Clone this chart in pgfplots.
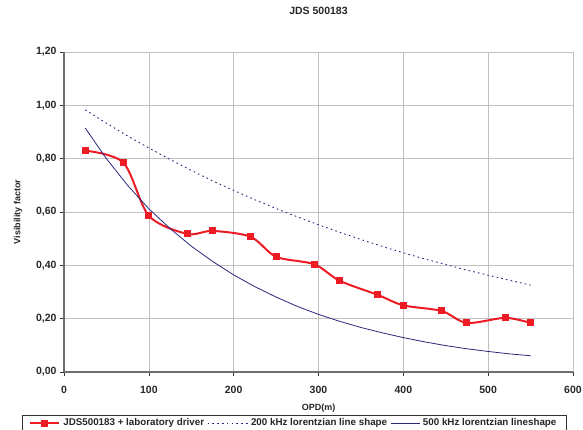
\documentclass[border=0pt]{standalone}
\usepackage{fontspec}
\setmainfont{Liberation Sans}
\usepackage{pgfplots}
\pgfplotsset{compat=1.18}
\definecolor{myred}{RGB}{237,28,36}
\definecolor{navy}{RGB}{40,40,125}
\definecolor{gridgray}{RGB}{192,192,192}
\definecolor{axgray}{RGB}{110,110,110}
\begin{document}
\begin{tikzpicture}
\useasboundingbox (0,0) rectangle (583pt,430pt);
\begin{axis}[
  at={(64pt,58pt)}, anchor=south west,
  scale only axis, width=509pt, height=320pt,
  xmin=0, xmax=600, ymin=0, ymax=1.2,
  xtick={0,100,200,300,400,500,600},
  ytick={0,0.2,0.4,0.6,0.8,1.0,1.2},
  axis x line*=bottom, axis y line*=left,
  axis line style={axgray, line width=1.3pt, -},
  tick style={black!80, line width=0.6pt},
  tick align=outside, major tick length=4pt,
  grid=major, major grid style={gridgray, line width=0.6pt},
  /pgf/number format/assume math mode=true,
  yticklabel style={/pgf/number format/.cd, fixed, fixed zerofill, precision=2, use comma},
  ticklabel style={font=\fontsize{10.5}{12}\selectfont\bfseries, text=black!85},
  xticklabel style={anchor=center, yshift=-14pt},
  title={JDS 500183},
  title style={font=\fontsize{10.5}{12}\selectfont\bfseries, text=black!85, at={(axis description cs:0.5,1)}, anchor=center, yshift=35pt},
  xlabel={OPD(m)},
  xlabel style={font=\fontsize{9}{11}\selectfont\bfseries, text=black!85, at={(axis description cs:0.5,0)}, anchor=center, yshift=-36pt},
  ylabel={Visibility factor},
  ylabel style={font=\fontsize{9}{11}\selectfont\bfseries, text=black!85, at={([xshift=-46pt]axis description cs:0,0.5)}, anchor=center},
  legend columns=3,
  legend style={at={(axis description cs:-0.0825,-0.1344)}, anchor=north west,
    draw=black!80, line width=0.6pt, fill=white, inner xsep=7pt, inner ysep=1.5pt,
    font=\fontsize{9.8}{11}\selectfont\bfseries,
    nodes={inner xsep=3pt, inner ysep=2pt, text=black!85},
    column sep=0pt},
]
\addplot[myred, line width=2pt, smooth, tension=0.5, mark=square*, mark size=3pt, mark options={fill=myred, draw=myred, line width=0pt},
  legend image code/.code={
    \draw[mark repeat=2, mark phase=2] plot coordinates {(0pt,0pt) (14.5pt,0pt) (29pt,0pt)};}]
coordinates {
(25,0.830) (70,0.785) (100,0.586) (145,0.518) (175,0.529) (220,0.507) (250,0.432)
(295,0.404) (325,0.342) (370,0.289) (400,0.250) (445,0.229) (475,0.184) (520,0.203) (550,0.184)
};
\addlegendentry{JDS500183 + laboratory driver\hspace{6pt}}
\addplot[navy, line width=0.9pt, dash pattern=on 1.6pt off 3.2pt,
  legend image code/.code={
    \draw (0pt,0pt) -- (40pt,0pt);}]
coordinates {
(25,0.983) (50,0.933) (75,0.885) (100,0.840) (125,0.797) (150,0.756) (175,0.717)
(200,0.681) (225,0.646) (250,0.613) (275,0.582) (300,0.552) (325,0.524) (350,0.497)
(375,0.471) (400,0.447) (425,0.424) (450,0.403) (475,0.382) (500,0.363) (525,0.344) (550,0.326)
};
\addlegendentry{200 kHz lorentzian line shape\hspace{13pt}}
\addplot[navy, line width=0.8pt,
  legend image code/.code={
    \draw (0pt,0pt) -- (29pt,0pt);}]
coordinates {
(25,0.915) (50,0.800) (75,0.700) (100,0.612) (125,0.538) (150,0.472) (175,0.415)
(200,0.364) (225,0.320) (250,0.281) (275,0.246) (300,0.216) (325,0.190) (350,0.167)
(375,0.147) (400,0.129) (425,0.113) (450,0.099) (475,0.087) (500,0.077) (525,0.068) (550,0.061)
};
\addlegendentry{500 kHz lorentzian lineshape}
\end{axis}
\end{tikzpicture}
\end{document}
